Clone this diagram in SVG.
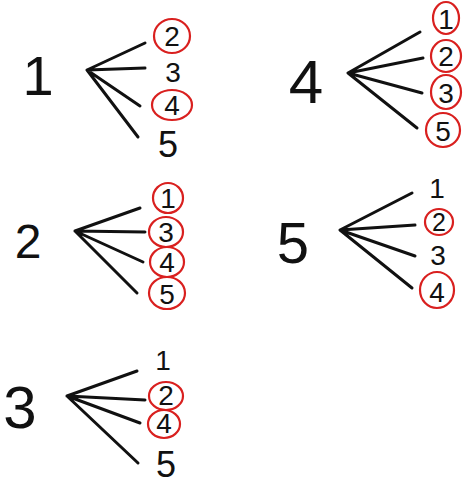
<svg xmlns="http://www.w3.org/2000/svg" width="463" height="486" viewBox="0 0 463 486">
<style>
text{font-family:"Liberation Sans",Arial,sans-serif;fill:#111;text-anchor:middle}
.root{font-size:56px}
.leaf{font-size:28px}
.ring{fill:none;stroke:#d9201f;stroke-width:2.2}
.edge{stroke:#111;stroke-width:3;stroke-linecap:round;fill:none}
</style>
<rect width="463" height="486" fill="#fff"/>
<g id="connectors">
<path class="edge" d="M87 70L145 43M87 70L145 68M87 70L140 106M87 70L138 137"/>
<path class="edge" d="M348 73L420 32M348 73L423 58M348 73L422 93M348 73L417 128"/>
<path class="edge" d="M75 231L140 208M75 231L145 232M75 231L143 262M75 231L137 293"/>
<path class="edge" d="M340 230L412 193M340 230L415 225M340 230L415 256M340 230L412 288"/>
<path class="edge" d="M67 396L137 371M67 396L145 400M67 396L140 423M67 396L138 463"/>
</g>
<g id="t1-root"><text class="root" x="38" y="95">1</text></g>
<g id="t1-2"><ellipse class="ring" cx="172" cy="36" rx="18" ry="17"/><text class="leaf" x="172" y="46">2</text></g>
<g id="t1-3"><text class="leaf" x="173" y="82">3</text></g>
<g id="t1-4"><ellipse class="ring" cx="172" cy="105" rx="20" ry="15"/><text class="leaf" x="172" y="115">4</text></g>
<g id="t1-5"><text class="leaf" x="168" y="157" style="font-size:36px">5</text></g>

<g id="t4-root"><text class="root" x="306" y="103" style="font-size:62px">4</text></g>
<g id="t4-1"><ellipse class="ring" cx="446" cy="18" rx="13" ry="16"/><text class="leaf" x="446" y="29">1</text></g>
<g id="t4-2"><ellipse class="ring" cx="446" cy="56" rx="15" ry="16"/><text class="leaf" x="446" y="66">2</text></g>
<g id="t4-3"><ellipse class="ring" cx="446" cy="92" rx="15" ry="17"/><text class="leaf" x="446" y="103">3</text></g>
<g id="t4-5"><ellipse class="ring" cx="443" cy="130" rx="17" ry="17"/><text class="leaf" x="443" y="141">5</text></g>

<g id="t2-root"><text class="root" x="28" y="258" style="font-size:48px">2</text></g>
<g id="t2-1"><ellipse class="ring" cx="168" cy="198" rx="15" ry="15"/><text class="leaf" x="168" y="208">1</text></g>
<g id="t2-3"><ellipse class="ring" cx="166" cy="232" rx="17" ry="15"/><text class="leaf" x="166" y="242">3</text></g>
<g id="t2-4"><ellipse class="ring" cx="167" cy="262" rx="17" ry="15"/><text class="leaf" x="167" y="272">4</text></g>
<g id="t2-5"><ellipse class="ring" cx="167" cy="293" rx="18" ry="16"/><text class="leaf" x="167" y="304">5</text></g>

<g id="t5-root"><text class="root" x="293" y="263" style="font-size:58px">5</text></g>
<g id="t5-1"><text class="leaf" x="437" y="198">1</text></g>
<g id="t5-2"><ellipse class="ring" cx="439" cy="222" rx="14" ry="13"/><text class="leaf" x="439" y="231" style="font-size:25px">2</text></g>
<g id="t5-3"><text class="leaf" x="438" y="265">3</text></g>
<g id="t5-4"><ellipse class="ring" cx="437" cy="290" rx="17" ry="18"/><text class="leaf" x="437" y="302">4</text></g>

<g id="t3-root"><text class="root" x="20" y="428" style="font-size:60px">3</text></g>
<g id="t3-1"><text class="leaf" x="163" y="370">1</text></g>
<g id="t3-2"><ellipse class="ring" cx="166" cy="396" rx="17" ry="14"/><text class="leaf" x="166" y="405">2</text></g>
<g id="t3-4"><ellipse class="ring" cx="164" cy="424" rx="16" ry="14"/><text class="leaf" x="164" y="433">4</text></g>
<g id="t3-5"><text class="leaf" x="166" y="477" style="font-size:36px">5</text></g>
</svg>
